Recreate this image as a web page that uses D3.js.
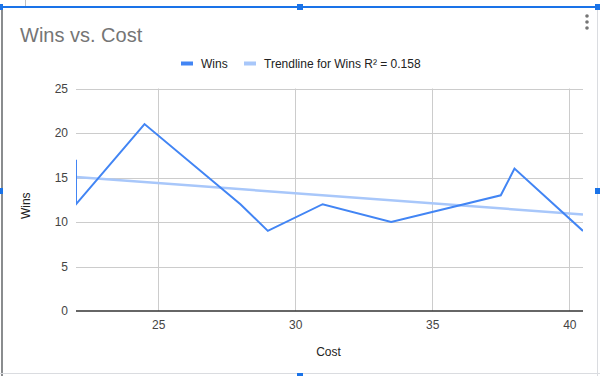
<!DOCTYPE html>
<html>
<head>
<meta charset="utf-8">
<script src="https://cdn.jsdelivr.net/npm/d3@7"></script>
<style>
  html, body { margin: 0; padding: 0; background: #fff; }
  svg { display: block; }
  text { font-family: "Liberation Sans", Arial, sans-serif; }
</style>
</head>
<body>
<svg id="chart" width="600" height="376"></svg>
<script>
// ---- data ----
const costs = [22, 22, 24.5, 28, 29, 31, 33.5, 37.5, 38, 40.5];
const wins  = [17, 12, 21, 12, 9, 12, 10, 13, 16, 9];
const xTicks = [25, 30, 35, 40];
const yTicks = [0, 5, 10, 15, 20, 25];
const chartTitle = "Wins vs. Cost";
const seriesName = "Wins";
const xTitle = "Cost";
const yTitle = "Wins";

(function () {
const svg = d3.select("#chart");
const W = 600, H = 376;

// plot area
const pL = 76, pR = 583, pT = 88.5, pB = 311;

const x = d3.scaleLinear().domain([d3.min(costs), d3.max(costs)]).range([pL, pR]);
const y = d3.scaleLinear().domain([0, 25]).range([pB, pT]);

// linear regression for trendline
const n = costs.length;
const mx = d3.mean(costs), my = d3.mean(wins);
let sxy = 0, sxx = 0, syy = 0;
for (let i = 0; i < n; i++) {
  sxy += (costs[i] - mx) * (wins[i] - my);
  sxx += (costs[i] - mx) ** 2;
  syy += (wins[i] - my) ** 2;
}
const slope = sxy / sxx, intercept = my - slope * mx;
const r2 = (sxy * sxy) / (sxx * syy);

// ---- spreadsheet chrome ----
svg.append("line").attr("x1", 25.5).attr("x2", 25.5).attr("y1", 0).attr("y2", 6).attr("stroke", "#c0c0c0");
svg.append("line").attr("x1", 2).attr("x2", 2).attr("y1", 7).attr("y2", H).attr("stroke", "#3c4043").attr("stroke-width", 1.2);
svg.append("rect").attr("x", 0).attr("y", 6).attr("width", 598).attr("height", 2).attr("fill", "#1a73e8");
svg.append("line").attr("x1", 597.5).attr("x2", 597.5).attr("y1", 8).attr("y2", H).attr("stroke", "#dadce0");
svg.append("line").attr("x1", 0).attr("x2", W).attr("y1", 373.5).attr("y2", 373.5).attr("stroke", "#dadce0");
const handles = [[0, 7], [300, 7], [598, 7], [0, 191], [598, 191], [300, 376]];
svg.selectAll("rect.handle").data(handles).join("rect")
  .attr("class", "handle")
  .attr("x", d => d[0] - 3).attr("y", d => d[1] - 3)
  .attr("width", 6).attr("height", 6)
  .attr("fill", "#1a73e8");

// menu dots
svg.selectAll("circle.dot").data([16, 22, 28]).join("circle")
  .attr("class", "dot").attr("cx", 587).attr("cy", d => d).attr("r", 1.8).attr("fill", "#757575");

// title
svg.append("text").attr("x", 20).attr("y", 42)
  .attr("font-size", 20).attr("fill", "#757575").text(chartTitle);

// legend
const lg = svg.append("g");
lg.append("rect").attr("x", 181).attr("y", 61.5).attr("width", 12).attr("height", 4).attr("fill", "#4285f4");
lg.append("text").attr("x", 201).attr("y", 68).attr("font-size", 12).attr("fill", "#222").text(seriesName);
lg.append("rect").attr("x", 244).attr("y", 61.5).attr("width", 12).attr("height", 4).attr("fill", "#a8c7fa");
lg.append("text").attr("x", 264).attr("y", 68).attr("font-size", 12).attr("fill", "#222")
  .text(`Trendline for ${seriesName} R² = ${r2.toFixed(3)}`);

// gridlines
svg.append("g").selectAll("line").data(yTicks.filter(d => d !== 0)).join("line")
  .attr("x1", pL).attr("x2", pR)
  .attr("y1", d => Math.round(y(d)) + 0.5).attr("y2", d => Math.round(y(d)) + 0.5)
  .attr("stroke", "#cccccc");
svg.append("g").selectAll("line").data(xTicks).join("line")
  .attr("y1", pT).attr("y2", pB)
  .attr("x1", d => Math.round(x(d)) + 0.5).attr("x2", d => Math.round(x(d)) + 0.5)
  .attr("stroke", "#cccccc");

// axes labels
const yAxis = d3.axisLeft(y).tickValues(yTicks).tickSize(0).tickPadding(8);
const gy = svg.append("g").attr("transform", `translate(${pL},0)`).call(yAxis);
gy.select(".domain").remove();
gy.selectAll("text").attr("font-size", 12).attr("fill", "#444").attr("font-family", "Liberation Sans, Arial, sans-serif");

const xAxis = d3.axisBottom(x).tickValues(xTicks).tickSize(0).tickPadding(9);
const gx = svg.append("g").attr("transform", `translate(0,${pB})`).call(xAxis);
gx.select(".domain").remove();
gx.selectAll("text").attr("font-size", 12).attr("fill", "#444").attr("font-family", "Liberation Sans, Arial, sans-serif");

// baseline
svg.append("line").attr("x1", pL).attr("x2", pR).attr("y1", pB).attr("y2", pB)
  .attr("stroke", "#333").attr("stroke-width", 1.3);

// axis titles
svg.append("text").attr("x", (pL + pR) / 2 - 1).attr("y", 356).attr("text-anchor", "middle")
  .attr("font-size", 12).attr("fill", "#222").text(xTitle);
svg.append("text").attr("transform", `translate(30,${(pT + pB) / 2 + 6}) rotate(-90)`)
  .attr("text-anchor", "middle").attr("font-size", 12).attr("fill", "#222").text(yTitle);

// clip
svg.append("clipPath").attr("id", "plotclip").append("rect")
  .attr("x", pL).attr("y", pT - 5).attr("width", pR - pL).attr("height", pB - pT + 5);

const plot = svg.append("g").attr("clip-path", "url(#plotclip)");

// trendline
const [x0, x1] = x.domain();
plot.append("line")
  .attr("x1", x(x0)).attr("y1", y(intercept + slope * x0))
  .attr("x2", x(x1)).attr("y2", y(intercept + slope * x1))
  .attr("stroke", "#a8c7fa").attr("stroke-width", 2.5);

// wins line
const pts = costs.map((c, i) => [c, wins[i]]);
plot.append("path").datum(pts)
  .attr("fill", "none").attr("stroke", "#4285f4").attr("stroke-width", 2)
  .attr("stroke-linejoin", "miter")
  .attr("d", d3.line().x(d => x(d[0])).y(d => y(d[1])));
})();
</script>
</body>
</html>
